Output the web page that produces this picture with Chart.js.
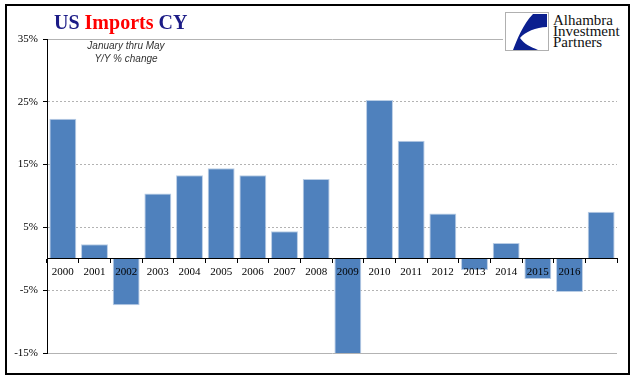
<!DOCTYPE html>
<html>
<head>
<meta charset="utf-8">
<script src="https://cdn.jsdelivr.net/npm/chart.js@4.4.1/dist/chart.umd.min.js"></script>
<style>
  html, body { margin: 0; padding: 0; background: #fff; }
  #wrap { position: relative; width: 640px; height: 380px; overflow: hidden; }
  #c { position: absolute; left: 0; top: 0; }
  #frame { position: absolute; left: 5px; top: 4px; width: 621px; height: 367px; border: 2px solid #000; pointer-events: none; }
  #title { position: absolute; left: 54px; top: 12px; font: bold 20px "Liberation Serif", serif; line-height: 20px; white-space: nowrap; }
  #title .b { color: #1b1b86; }
  #title .r { color: #ff0000; }
  #sub { position: absolute; left: 66px; top: 39px; width: 120px; text-align: center; font: italic 10px "Liberation Sans", sans-serif; line-height: 13px; color: #333; }
  #logo { position: absolute; left: 503px; top: 7px; width: 122px; height: 48px; background: #fff; }
  #logo svg { position: absolute; left: 2px; top: 5px; }
  #logo .txt { position: absolute; left: 50px; top: 8px; font: 15px "Liberation Serif", serif; line-height: 11px; color: #111; white-space: nowrap; }
</style>
</head>
<body>
<div id="wrap">
  <canvas id="c" width="640" height="380"></canvas>
  <div id="title"><span class="b">US </span><span class="r">Imports</span><span class="b"> CY</span></div>
  <div id="sub">January thru May<br>Y/Y % change</div>
  <div id="logo">
    <svg width="44" height="39" viewBox="0 0 44 39">
      <rect x="0.5" y="0.5" width="43" height="38" fill="#fff" stroke="#b0b0b0" stroke-width="1"/>
      <path d="M28 2 L42 2 L42 15 C31 15 20 20 15 26 C19 32 26 35 33 38 L8 38 C12 28 18 12 28 2 Z" fill="#0b1f8f"/>
    </svg>
    <div class="txt">Alhambra<br>Investment<br>Partners</div>
  </div>
  <div id="frame"></div>
</div>
<script>
const categories = ['2000','2001','2002','2003','2004','2005','2006','2007','2008','2009','2010','2011','2012','2013','2014','2015','2016','2017'];
const tickLabels = ['2000','2001','2002','2003','2004','2005','2006','2007','2008','2009','2010','2011','2012','2013','2014','2015','2016',''];
const importsYoY = [22.3, 2.3, -7.4, 10.4, 13.3, 14.4, 13.3, 4.4, 12.7, -15.5, 25.3, 18.8, 7.2, -1.8, 2.5, -3.2, -5.3, 7.5];
const yTicks = [-15, -5, 5, 15, 25, 35];

const tickFont = { family: '"Liberation Serif", serif', size: 11 };

new Chart(document.getElementById('c'), {
  type: 'bar',
  data: {
    labels: categories,
    datasets: [{
      data: importsYoY,
      backgroundColor: '#4f81bd',
      borderColor: '#b9cde5',
      borderWidth: 1,
      barPercentage: 0.85,
      categoryPercentage: 1.0
    }]
  },
  options: {
    responsive: false,
    animation: false,
    events: [],
    layout: { padding: { top: 39, right: 23, bottom: 27, left: 0 } },
    plugins: { legend: { display: false }, tooltip: { enabled: false }, title: { display: false } },
    scales: {
      x: {
        position: { y: 0 },
        offset: true,
        grid: {
          offset: true,
          drawOnChartArea: true,
          drawTicks: true,
          tickLength: 4,
          tickColor: '#000',
          color: ctx => (ctx.index === categories.length ? '#a6a6a6' : 'rgba(0,0,0,0)'),
          lineWidth: 1,
          z: 1
        },
        border: { display: true, color: '#000', width: 1, z: 1 },
        ticks: {
          autoSkip: false,
          maxRotation: 0,
          padding: 3,
          color: '#000',
          font: tickFont,
          z: 2,
          callback: (v, i) => tickLabels[i]
        }
      },
      y: {
        min: yTicks[0],
        max: yTicks[yTicks.length - 1],
        afterFit: s => { s.width = 47; },
        afterBuildTicks: s => { s.ticks = yTicks.map(v => ({ value: v })); },
        grid: {
          color: '#b3b3b3',
          lineWidth: 1,
          drawTicks: true,
          tickLength: 4,
          tickColor: '#000'
        },
        border: {
          display: true,
          color: '#000',
          width: 1,
          dash: ctx => (ctx.tick && (ctx.tick.value === yTicks[0] || ctx.tick.value === yTicks[yTicks.length - 1]) ? [] : [2, 2])
        },
        ticks: {
          padding: 5,
          color: '#000',
          font: tickFont,
          callback: v => v + '%'
        }
      }
    }
  }
});
</script>
</body>
</html>
